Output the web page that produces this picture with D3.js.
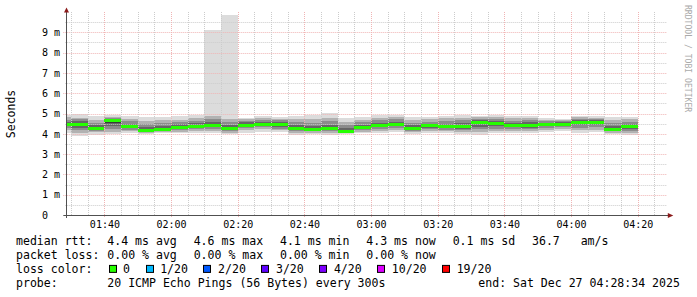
<!DOCTYPE html>
<html>
<head>
  <meta charset="UTF-8">
  <title>SmokePing - last 3 hours</title>
  <script src="https://d3js.org/d3.v7.min.js"></script>
  <style>
    body { margin: 0; background: #fff; }
    text { font-family: "DejaVu Sans Mono", monospace; white-space: pre; }
  </style>
</head>
<body>
  <div id="graphContainer"></div>
  <script>
    // 5 minute buckets (end time of each step)
    var bucketEnd = ["01:30","01:35","01:40","01:45","01:50","01:55","02:00","02:05","02:10",
                     "02:15","02:20","02:25","02:30","02:35","02:40","02:45","02:50","02:55",
                     "03:00","03:05","03:10","03:15","03:20","03:25","03:30","03:35","03:40",
                     "03:45","03:50","03:55","04:00","04:05","04:10","04:15","04:20"];

    // median rtt, ms
    var medianRtt = [4.48,4.46,4.25,4.64,4.36,4.17,4.20,4.31,4.38,4.43,4.26,4.43,4.48,4.44,4.28,
                     4.22,4.26,4.12,4.31,4.41,4.46,4.28,4.39,4.36,4.34,4.56,4.51,4.41,4.41,4.44,
                     4.46,4.56,4.57,4.20,4.38];

    // smoke: sorted ping ranges, outer (min/max) to inner, ms
    var pingMin = [4.05,3.88,3.95,3.98,4.02,4.00,4.02,4.03,4.05,4.04,3.98,4.05,4.10,4.08,3.95,
                   3.98,3.92,4.00,4.02,4.05,4.08,4.00,4.05,4.04,4.00,3.95,4.02,4.05,4.02,4.08,
                   4.15,4.05,4.08,4.00,3.95];
    var pingLo2 = [4.18,4.05,4.08,4.10,4.12,4.06,4.08,4.10,4.14,4.15,4.05,4.18,4.22,4.18,4.05,
                   4.05,4.02,4.05,4.10,4.15,4.18,4.08,4.14,4.12,4.10,4.08,4.14,4.14,4.12,4.18,
                   4.26,4.18,4.20,4.06,4.05];
    var pingLo3 = [4.30,4.18,4.15,4.25,4.20,4.10,4.12,4.18,4.22,4.25,4.12,4.28,4.32,4.26,4.12,
                   4.12,4.12,4.08,4.18,4.24,4.28,4.15,4.22,4.20,4.18,4.22,4.26,4.24,4.22,4.28,
                   4.34,4.30,4.32,4.12,4.15];
    var pingLo4 = [4.38,4.30,4.20,4.40,4.27,4.13,4.16,4.24,4.30,4.33,4.18,4.35,4.40,4.35,4.20,
                   4.17,4.18,4.10,4.24,4.32,4.36,4.21,4.30,4.28,4.26,4.35,4.38,4.32,4.31,4.36,
                   4.40,4.42,4.44,4.16,4.25];
    var pingLo5 = [4.44,4.40,4.23,4.55,4.32,4.15,4.18,4.28,4.35,4.40,4.23,4.40,4.45,4.41,4.25,
                   4.20,4.23,4.11,4.28,4.38,4.42,4.25,4.36,4.33,4.31,4.48,4.46,4.38,4.37,4.41,
                   4.44,4.50,4.52,4.18,4.33];
    var pingHi5 = [4.52,4.52,4.30,4.68,4.40,4.22,4.28,4.36,4.42,4.48,4.32,4.48,4.52,4.48,4.34,
                   4.28,4.32,4.18,4.36,4.45,4.50,4.33,4.43,4.40,4.40,4.60,4.55,4.46,4.46,4.48,
                   4.50,4.60,4.61,4.26,4.42];
    var pingHi4 = [4.60,4.62,4.42,4.72,4.50,4.32,4.40,4.46,4.52,4.58,4.45,4.56,4.60,4.56,4.45,
                   4.40,4.45,4.30,4.45,4.55,4.60,4.42,4.50,4.50,4.52,4.68,4.64,4.55,4.56,4.55,
                   4.56,4.68,4.68,4.38,4.50];
    var pingHi3 = [4.70,4.72,4.55,4.78,4.62,4.48,4.55,4.58,4.65,4.72,4.60,4.64,4.68,4.66,4.58,
                   4.55,4.62,4.45,4.56,4.68,4.72,4.55,4.60,4.62,4.66,4.75,4.72,4.65,4.68,4.62,
                   4.62,4.75,4.74,4.52,4.60];
    var pingHi2 = [4.82,4.80,4.70,4.85,4.75,4.62,4.68,4.70,4.80,4.90,4.75,4.72,4.78,4.75,4.72,
                   4.72,4.80,4.60,4.68,4.80,4.85,4.70,4.72,4.76,4.80,4.82,4.82,4.78,4.80,4.70,
                   4.68,4.82,4.80,4.68,4.72];
    var pingMax = [4.95,4.98,4.90,4.95,4.90,4.82,4.85,4.88,4.92,9.10,9.85,4.80,4.88,4.85,4.90,
                   4.92,5.02,4.78,4.82,4.92,4.95,4.84,4.82,4.88,4.92,4.90,4.92,4.90,4.88,4.80,
                   4.75,4.90,4.88,4.82,4.85];

    var yTicks = [0,1,2,3,4,5,6,7,8,9];
    var xTickLabels = ["01:40","02:00","02:20","02:40","03:00","03:20","03:40","04:00","04:20"];

    // legend
    var rttStats  = ["4.4 ms avg","4.6 ms max","4.1 ms min","4.3 ms now","0.1 ms sd","36.7   am/s"];
    var lossStats = ["0.00 % avg","0.00 % max","0.00 % min","0.00 % now"];
    var lossLabels = ["0","1/20","2/20","3/20","4/20","10/20","19/20"];
    var lossColors = ["#26ff00","#00b8ff","#0059ff","#5e00ff","#7e00ff","#dd00ff","#ff0000"];
    var probeText = "20 ICMP Echo Pings (56 Bytes) every 300s";
    var endText = "end: Sat Dec 27 04:28:34 2025";

    var W = 697, H = 297;
    var plot = {left: 66.3, right: 666.3, top: 12, bottom: 215};
    var parseT = d3.utcParse("%Y-%m-%d %H:%M:%S");
    var tStart = parseT("2025-12-27 01:28:34"),
        tEnd   = parseT("2025-12-27 04:28:34");

    var svg = d3.select("#graphContainer").append("svg")
        .attr("width", W).attr("height", H)
        .style("display", "block");
    svg.append("rect").attr("width", W).attr("height", H).attr("fill", "#fff");

    var x = d3.scaleUtc().domain([tStart, tEnd]).range([plot.left, plot.right]);
    var y = d3.scaleLinear().domain([0, 10]).range([plot.bottom, plot.top]);

    var buckets = bucketEnd.map(function(s, i){
      var e = parseT("2025-12-27 " + s + ":00");
      var b = d3.utcMinute.offset(e, -5);
      return { x0: Math.max(x(b), plot.left + 0.2), x1: x(e), i: i };
    });

    // smoke
    var bands = [
      {lo: pingMin, hi: pingMax, color: "#dcdcdc"},
      {lo: pingLo2, hi: pingHi2, color: "#b2b2b2"},
      {lo: pingLo3, hi: pingHi3, color: "#8c8c8c"},
      {lo: pingLo4, hi: pingHi4, color: "#666666"},
      {lo: pingLo5, hi: pingHi5, color: "#3a3a3a"}
    ];
    var smoke = svg.append("g").attr("shape-rendering", "crispEdges");
    bands.forEach(function(band){
      smoke.selectAll(null)
        .data(buckets)
        .join("rect")
        .attr("x", function(d){ return d.x0; })
        .attr("width", function(d){ return d.x1 - d.x0; })
        .attr("y", function(d){ return y(band.hi[d.i]); })
        .attr("height", function(d){ return y(band.lo[d.i]) - y(band.hi[d.i]); })
        .attr("fill", band.color);
    });

    // grid
    var grid = svg.append("g").attr("stroke-dasharray", "1,1").attr("stroke-width", 1);
    var halfSteps = d3.range(1, 20).map(function(k){ return k / 2; });
    grid.selectAll(null).data(halfSteps).join("line")
      .attr("x1", function(d){ return d % 1 === 0 ? plot.left - 3 : plot.left - 1; })
      .attr("x2", plot.right)
      .attr("y1", function(d){ return Math.round(y(d)) + 0.5; })
      .attr("y2", function(d){ return Math.round(y(d)) + 0.5; })
      .attr("stroke", function(d){ return d % 1 === 0 ? "#f0b4b4" : "#cccccc"; });

    var fiveMin = d3.utcMinute.every(5).range(tStart, tEnd);
    grid.selectAll(null).data(fiveMin).join("line")
      .attr("x1", function(d){ return Math.round(x(d)) + 0.5; })
      .attr("x2", function(d){ return Math.round(x(d)) + 0.5; })
      .attr("y1", plot.top)
      .attr("y2", function(d){ return d.getUTCMinutes() % 20 === 0 ? plot.bottom + 3 : plot.bottom; })
      .attr("stroke", function(d){ return d.getUTCMinutes() % 20 === 0 ? "#f0b4b4" : "#cccccc"; });

    // median lines (loss 0 colour)
    svg.append("g").selectAll("line").data(buckets).join("line")
      .attr("x1", function(d){ return d.x0; })
      .attr("x2", function(d){ return d.x1; })
      .attr("y1", function(d){ return y(medianRtt[d.i]); })
      .attr("y2", function(d){ return y(medianRtt[d.i]); })
      .attr("stroke", lossColors[0])
      .attr("stroke-width", 3)
      .attr("shape-rendering", "crispEdges");

    // axes
    var yAxis = d3.axisLeft(y).tickValues(yTicks).tickSize(0).tickPadding(6.3)
      .tickFormat(function(d){ return d === 0 ? "0\u00a0\u00a0" : d + "\u00a0m"; });
    var gy = svg.append("g").attr("transform", "translate(" + plot.left + ",0)").call(yAxis);
    gy.select(".domain").remove();
    gy.selectAll("text").attr("font-family", "DejaVu Sans Mono").attr("font-size", "10px").attr("fill", "#000");

    var xAxis = d3.axisBottom(x)
      .tickValues(xTickLabels.map(function(s){ return parseT("2025-12-27 " + s + ":00"); }))
      .tickFormat(d3.utcFormat("%H:%M")).tickSize(0).tickPadding(5.6);
    var gx = svg.append("g").attr("transform", "translate(0," + plot.bottom + ")").call(xAxis);
    gx.select(".domain").remove();
    gx.selectAll("text").attr("font-family", "DejaVu Sans Mono").attr("font-size", "10px").attr("fill", "#000");

    var axisX = Math.round(plot.left) + 0.5;
    svg.append("line").attr("x1", axisX).attr("x2", axisX).attr("y1", plot.bottom + 3).attr("y2", plot.top - 2)
      .attr("stroke", "#505050").attr("stroke-width", 1);
    svg.append("line").attr("x1", plot.left - 3).attr("x2", plot.right + 2).attr("y1", plot.bottom + 0.5).attr("y2", plot.bottom + 0.5)
      .attr("stroke", "#505050").attr("stroke-width", 1);
    // arrows
    svg.append("path")
      .attr("d", "M" + (axisX - 2.5) + "," + (plot.top + 0.5) + "L" + axisX + "," + (plot.top - 4.5) + "L" + (axisX + 2.5) + "," + (plot.top + 0.5) + "Z")
      .attr("fill", "#8b1a1a");
    svg.append("path")
      .attr("d", "M" + (plot.right + 1.5) + "," + (plot.bottom - 2) + "L" + (plot.right + 7) + "," + (plot.bottom + 0.5) + "L" + (plot.right + 1.5) + "," + (plot.bottom + 3) + "Z")
      .attr("fill", "#8b1a1a");

    // vertical titles
    svg.append("text")
      .attr("transform", "translate(15," + 114 + ") rotate(-90)")
      .attr("text-anchor", "middle")
      .attr("font-size", "11.5px")
      .attr("fill", "#000")
      .text("Seconds");
    svg.append("text")
      .attr("transform", "translate(685,5) rotate(90)")
      .attr("font-size", "8.1px")
      .attr("fill", "#aaaaaa")
      .text("RRDTOOL / TOBI OETIKER");

    // legend
    var lg = svg.append("g").attr("font-size", "11.55px").attr("fill", "#000");
    var rowY = [245.3, 259.1, 272.9, 286.7];
    var colX = 107.3, gap = 16.8;
    function txt(xx, yy, s){
      return lg.append("text").attr("x", xx).attr("y", yy)
        .attr("xml:space", "preserve").style("white-space", "pre").text(s);
    }
    txt(16, rowY[0], "median rtt:");
    txt(16, rowY[1], "packet loss:");
    txt(16, rowY[2], "loss color:");
    txt(16, rowY[3], "probe:");

    function row(items, yy){
      var cx = colX;
      items.forEach(function(s){
        var t = txt(cx, yy, s);
        cx += t.node().getComputedTextLength() + gap;
      });
    }
    row(rttStats, rowY[0]);
    row(lossStats, rowY[1]);

    var cx = 108.5;
    lossLabels.forEach(function(s, i){
      lg.append("rect").attr("x", Math.round(cx) + 0.5).attr("y", rowY[2] - 7.5).attr("width", 7).attr("height", 7)
        .attr("fill", lossColors[i]).attr("stroke", "#000").attr("stroke-width", 1);
      var t = txt(cx + 14.6, rowY[2], s);
      cx = cx + 14.6 + t.node().getComputedTextLength() + 15.5;
    });

    txt(colX, rowY[3], probeText);
    txt(478.3, rowY[3], endText);
  </script>
</body>
</html>
